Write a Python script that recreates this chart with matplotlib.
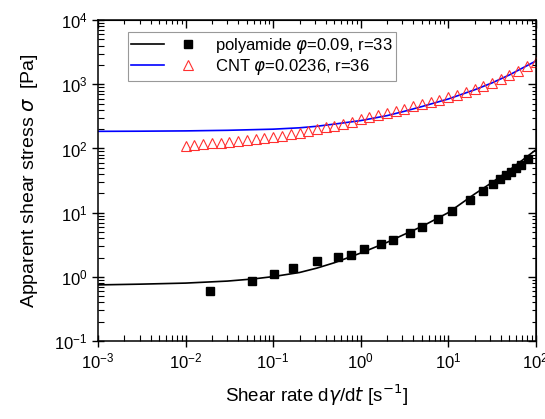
import numpy as np
import matplotlib.pyplot as plt
from matplotlib.legend_handler import HandlerTuple

plt.rcParams['font.family'] = ['Liberation Sans', 'DejaVu Sans']
plt.rcParams['mathtext.fontset'] = 'dejavusans'

# polyamide : points mesures et courbe d'ajustement
pa_rate = [0.019, 0.058, 0.103, 0.167, 0.314, 0.55, 0.77, 1.1, 1.7, 2.31,
           3.65, 4.96, 7.67, 11.1, 17.7, 25, 32.6, 39.5, 45.5, 52.8, 60, 68.7, 81.7]
pa_stress = [0.61, 0.86, 1.1, 1.37, 1.78, 2.01, 2.19, 2.68, 3.24, 3.74,
             4.75, 5.9, 7.9, 10.7, 15.7, 21.7, 27.5, 33, 38.6, 42.5, 49, 55, 67.6]
pa_fit_rate = [0.001, 0.003, 0.01, 0.03, 0.06, 0.1, 0.2, 0.316, 0.5, 1, 2, 3.16, 5, 10, 20, 31.6, 50, 100]
pa_fit_stress = [0.75, 0.77, 0.80, 0.86, 0.93, 1.01, 1.17, 1.37, 1.66, 2.35, 3.45, 4.6, 6.1, 10.0, 19.5, 29.5, 46, 95]

# CNT : points mesures et courbe d'ajustement
cnt_rate = [0.01, 0.0126, 0.0158, 0.02, 0.0251, 0.0316, 0.0398, 0.0501, 0.0631, 0.0794,
            0.1, 0.126, 0.158, 0.2, 0.251, 0.316, 0.398, 0.501, 0.631, 0.794,
            1, 1.26, 1.58, 2, 2.51, 3.16, 3.98, 5.01, 6.31, 7.94,
            10, 12.6, 15.8, 20, 25.1, 31.6, 39.8, 50.1, 63.1, 79.4, 100]
cnt_stress = [110, 113, 116, 120, 123, 126, 130, 134, 139, 145,
              150, 158, 166, 176, 189, 200, 214, 228, 242, 260,
              285, 308, 332, 360, 390, 418, 453, 490, 530, 578,
              632, 690, 760, 850, 950, 1060, 1200, 1390, 1620, 1900, 2250]
cnt_fit_rate = [0.001, 0.003, 0.01, 0.03, 0.1, 0.2, 0.316, 0.5, 1, 2, 3.16, 5, 10, 20, 31.6, 50, 100]
cnt_fit_stress = [185, 186, 188, 192, 200, 210, 222, 240, 272, 325, 380, 450, 590, 820, 1050, 1400, 2300]

fig = plt.figure(figsize=(5.45, 4.19), dpi=100)
ax = fig.add_axes([0.180, 0.186, 0.803, 0.766])

l1, = ax.plot(pa_fit_rate, pa_fit_stress, color='black', lw=1.2)
l2, = ax.plot(cnt_fit_rate, cnt_fit_stress, color='#0000ff', lw=1.2)
m1, = ax.plot(pa_rate, pa_stress, 's', color='black', ms=5.5, ls='none')
m2, = ax.plot(cnt_rate, cnt_stress, '^', mfc='none', mec='#ff3030', mew=0.8, ms=6.5, ls='none')

ax.set_xscale('log')
ax.set_yscale('log')
ax.set_xlim(1e-3, 1e2)
ax.set_ylim(1e-1, 1e4)

ax.tick_params(which='major', direction='inout', length=8, width=1, labelsize=12)
ax.tick_params(which='minor', direction='in', length=4, width=0.8)
for s in ax.spines.values():
    s.set_linewidth(1.1)

# graduations du haut et de droite, vers l'interieur seulement
top = ax.secondary_xaxis('top')
top.tick_params(which='major', direction='in', length=6, width=1, labeltop=False)
top.tick_params(which='minor', direction='in', length=3, width=0.8)
right = ax.secondary_yaxis('right')
right.tick_params(which='major', direction='in', length=6, width=1, labelright=False)
right.tick_params(which='minor', direction='in', length=3, width=0.8)

ax.set_xlabel(r'Shear rate d$\gamma$/d$t$ [s$^{-1}$]', fontsize=13.5, labelpad=8)
ax.set_ylabel(r'Apparent shear stress $\sigma$  [Pa]', fontsize=14, labelpad=10)

leg = ax.legend([(l1, m1), (l2, m2)],
                [r'polyamide $\varphi$=0.09, r=33', r'CNT $\varphi$=0.0236, r=36'],
                handler_map={tuple: HandlerTuple(ndivide=None, pad=0.5)},
                handlelength=4.4, fontsize=12, loc='upper left',
                bbox_to_anchor=(0.068, 0.962), frameon=True, fancybox=False,
                edgecolor='gray', borderpad=0.2, labelspacing=0.1, handletextpad=0.6,
                borderaxespad=0.0)
leg.get_frame().set_linewidth(0.8)

fig.savefig('out.png', dpi=100)
